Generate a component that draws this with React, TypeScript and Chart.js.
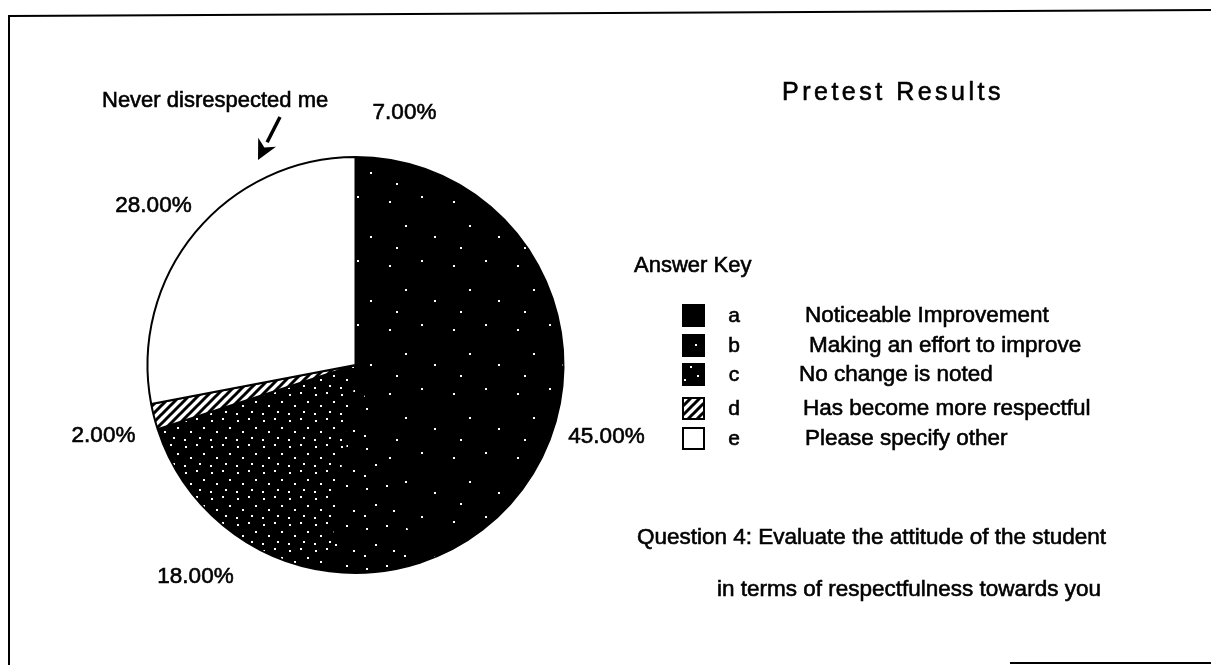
import React, { useEffect, useRef } from "react";
import { Chart, registerables } from "chart.js";

Chart.register(...registerables);

// ---- data ----
const categories = ["a", "b", "c", "d", "e"];
const descriptions = [
  "Noticeable Improvement",
  "Making an effort to improve",
  "No change is noted",
  "Has become more respectful",
  "Please specify other",
];
const values = [45, 7, 18, 2, 28];
const titleText = "Pretest Results";
const keyTitle = "Answer Key";
const questionLines = [
  "Question 4: Evaluate the attitude of the student",
  "in terms of respectfulness towards you",
];
const annotationText = "Never disrespected me";

// ---- layout (not data) ----
const W = 1211;
const H = 665;
const FONT = '"Liberation Sans", Arial, Helvetica, sans-serif';
// label centre offsets from the pie centre, per slice
const labelOffsets = [
  [251, 72],
  [49, -252],
  [-160, 212],
  [-252, 71],
  [-202, -159],
];
const legendRowsY = [316, 346, 375, 409, 439];
const descX = [805, 809, 799, 803, 805];

function makePattern(kind: string): CanvasPattern | string {
  const c = document.createElement("canvas");
  const ctx = c.getContext("2d")!;
  if (kind === "a") {
    c.width = 64;
    c.height = 64;
    ctx.fillStyle = "#000";
    ctx.fillRect(0, 0, 64, 64);
    ctx.fillStyle = "#fff";
    const dots = [[5, 9], [37, 4], [21, 33], [50, 44], [12, 55]];
    dots.forEach(([x, y]) => ctx.fillRect(x, y, 2, 2));
  } else if (kind === "b") {
    c.width = 40;
    c.height = 40;
    ctx.fillStyle = "#000";
    ctx.fillRect(0, 0, 40, 40);
    ctx.fillStyle = "#fff";
    const dots = [[6, 8], [26, 5], [15, 24], [33, 30], [4, 35]];
    dots.forEach(([x, y]) => ctx.fillRect(x, y, 2, 2));
  } else if (kind === "c") {
    c.width = 26;
    c.height = 26;
    ctx.fillStyle = "#000";
    ctx.fillRect(0, 0, 26, 26);
    ctx.fillStyle = "#fff";
    const dots = [[3, 4], [14, 2], [21, 11], [8, 15], [17, 21], [2, 23]];
    dots.forEach(([x, y]) => ctx.fillRect(x, y, 2, 2));
  } else if (kind === "d") {
    c.width = 9;
    c.height = 9;
    ctx.fillStyle = "#fff";
    ctx.fillRect(0, 0, 9, 9);
    ctx.strokeStyle = "#000";
    ctx.lineWidth = 3;
    ctx.beginPath();
    ctx.moveTo(-1, 10);
    ctx.lineTo(10, -1);
    ctx.moveTo(-5.5, 5.5);
    ctx.lineTo(5.5, -5.5);
    ctx.moveTo(3.5, 14.5);
    ctx.lineTo(14.5, 3.5);
    ctx.stroke();
  } else {
    return "#ffffff";
  }
  return ctx.createPattern(c, "repeat") || "#000";
}

function heavyText(ctx: CanvasRenderingContext2D, s: string, x: number, y: number) {
  ctx.fillText(s, x, y);
  ctx.lineWidth = 0.6;
  ctx.strokeStyle = "#000";
  ctx.strokeText(s, x, y);
}

const decorPlugin = {
  id: "decor",
  afterDraw(chart: any) {
    const ctx: CanvasRenderingContext2D = chart.ctx;
    const arc = chart.getDatasetMeta(0).data[0];
    const cx = arc.x;
    const cy = arc.y;
    const patterns: any[] = (chart.data.datasets[0] as any).backgroundColor;
    ctx.save();

    // frame
    ctx.strokeStyle = "#000";
    ctx.lineWidth = 2;
    ctx.beginPath();
    ctx.moveTo(9, 665);
    ctx.lineTo(9, 16);
    ctx.lineTo(1211, 10);
    ctx.moveTo(1010, 663);
    ctx.lineTo(1211, 663);
    ctx.stroke();

    ctx.fillStyle = "#000";
    ctx.textBaseline = "middle";

    // percentage labels
    ctx.font = `22.5px ${FONT}`;
    ctx.textAlign = "center";
    values.forEach((v, i) => {
      const [dx, dy] = labelOffsets[i];
      heavyText(ctx, `${v.toFixed(2)}%`, cx + dx, cy + dy);
    });

    // annotation
    ctx.textAlign = "left";
    ctx.font = `22px ${FONT}`;
    heavyText(ctx, annotationText, 102, 101);

    // arrow
    const x1 = 280, y1 = 117, tx = 258, ty = 160;
    const len = Math.hypot(tx - x1, ty - y1);
    const ux = (tx - x1) / len, uy = (ty - y1) / len;
    const bx = tx - ux * 20, by = ty - uy * 20;
    ctx.lineWidth = 3.5;
    ctx.beginPath();
    ctx.moveTo(x1, y1);
    ctx.lineTo(bx, by);
    ctx.stroke();
    ctx.beginPath();
    ctx.moveTo(tx, ty);
    ctx.lineTo(bx - uy * 10, by + ux * 10);
    ctx.lineTo(bx + ux * 6, by + uy * 6);
    ctx.lineTo(bx + uy * 10, by - ux * 10);
    ctx.closePath();
    ctx.fill();

    // title
    ctx.font = `25px ${FONT}`;
    (ctx as any).letterSpacing = "3.5px";
    ctx.textAlign = "left";
    heavyText(ctx, titleText, 782, 93);
    (ctx as any).letterSpacing = "0px";

    // answer key
    ctx.font = `22px ${FONT}`;
    heavyText(ctx, keyTitle, 634, 266);

    categories.forEach((cat, i) => {
      const y = legendRowsY[i];
      ctx.fillStyle = patterns[i];
      ctx.fillRect(683, y - 11, 21, 21);
      ctx.strokeStyle = "#000";
      ctx.lineWidth = 2;
      ctx.strokeRect(683, y - 11, 21, 21);
      ctx.fillStyle = "#000";
      ctx.font = `21px ${FONT}`;
      ctx.textAlign = "center";
      heavyText(ctx, cat, 734, y);
      ctx.textAlign = "left";
      ctx.font = `22.5px ${FONT}`;
      heavyText(ctx, descriptions[i], descX[i], y);
    });

    // question
    ctx.font = `22.5px ${FONT}`;
    heavyText(ctx, questionLines[0], 637, 538);
    heavyText(ctx, questionLines[1], 717, 590);

    ctx.restore();
  },
};

export default function App() {
  const ref = useRef<HTMLCanvasElement | null>(null);
  useEffect(() => {
    if (!ref.current) return;
    const bg = categories.map((c) => makePattern(c));
    const chart = new Chart(ref.current, {
      type: "pie",
      data: {
        labels: categories,
        datasets: [
          {
            data: values,
            backgroundColor: bg as any,
            borderColor: "#000",
            borderWidth: 2,
          },
        ],
      },
      options: {
        animation: false,
        responsive: false,
        devicePixelRatio: 1,
        layout: {
          padding: { left: 146, right: W - 565, top: 156, bottom: H - 574 },
        },
        plugins: {
          legend: { display: false },
          tooltip: { enabled: false },
          title: { display: false },
        },
      },
      plugins: [decorPlugin],
    });
    return () => chart.destroy();
  }, []);

  return (
    <div style={{ position: "absolute", left: 0, top: 0, width: W, height: H, background: "#fff" }}>
      <canvas ref={ref} width={W} height={H} style={{ display: "block" }} />
    </div>
  );
}
